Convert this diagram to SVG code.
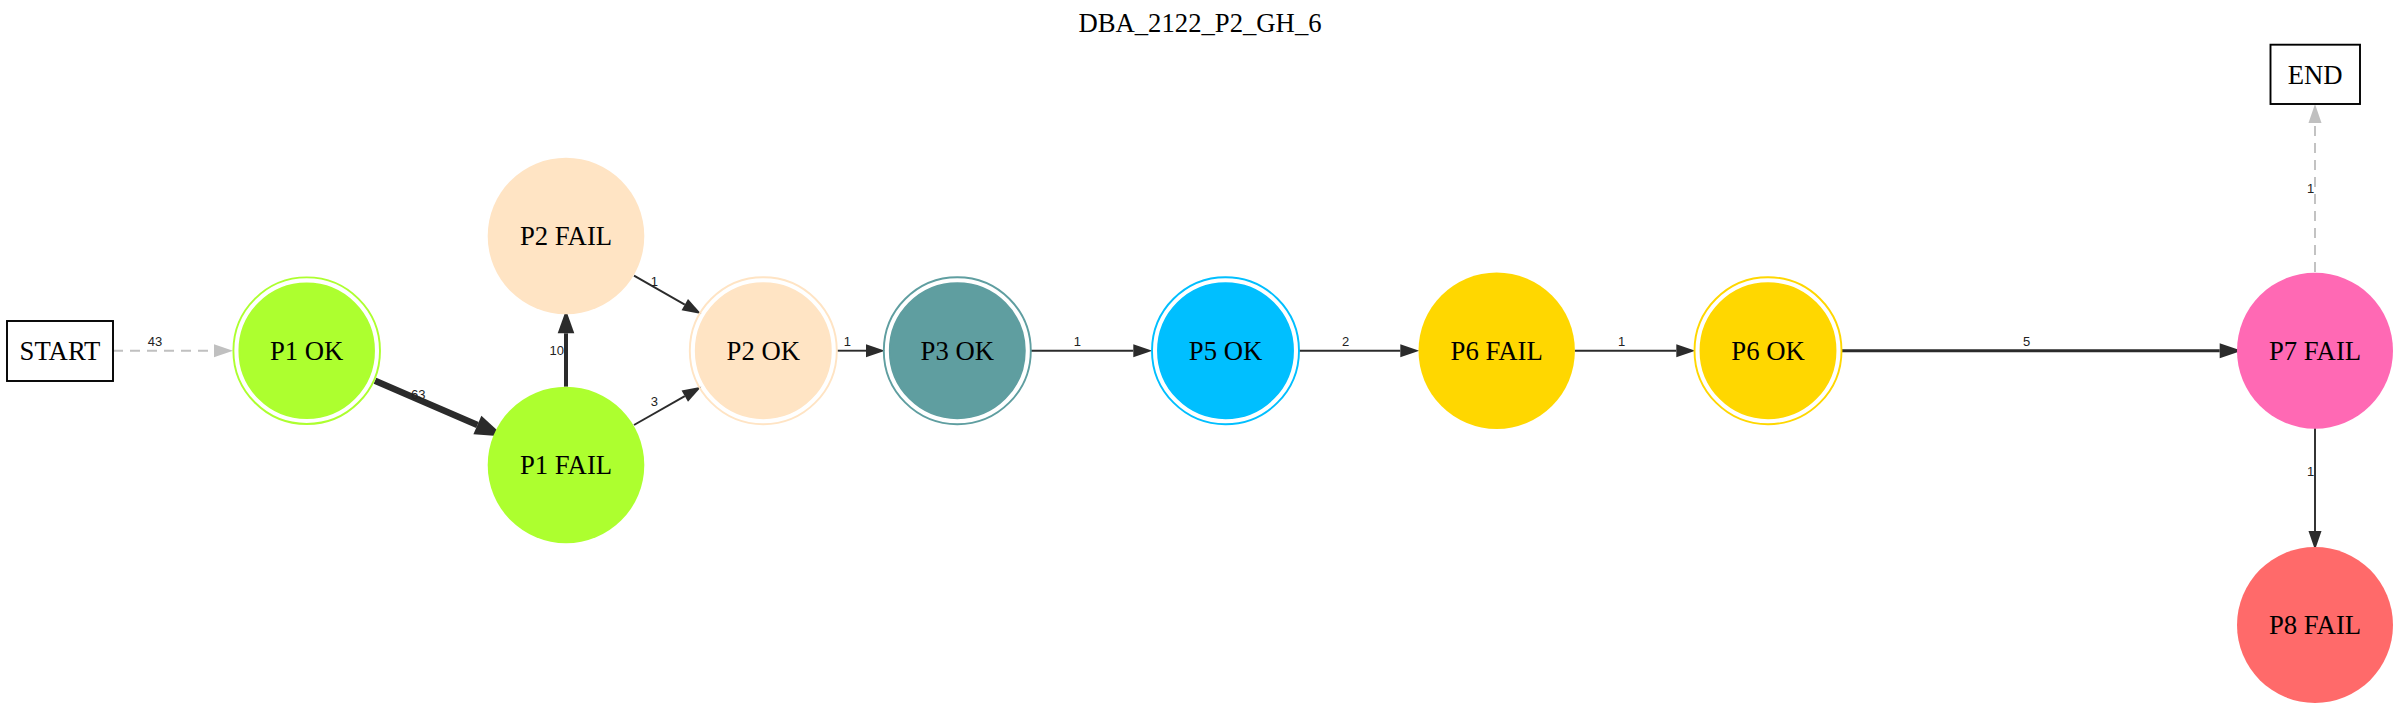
<svg xmlns="http://www.w3.org/2000/svg" width="2400" height="711" viewBox="0 0 2400 711">
<style>
.nt{font-family:"Liberation Serif","Times New Roman",serif;font-size:26.7px;text-anchor:middle;fill:#000}
.el{font-family:"Liberation Sans",Arial,sans-serif;font-size:13px;text-anchor:middle;fill:#222}
.e{fill:none;stroke:#2b2b2b;stroke-width:1.9}
.g{fill:none;stroke:#c0c0c0;stroke-width:1.9;stroke-dasharray:10,7}
.box{fill:#fff;stroke:#000;stroke-width:1.9}
</style>
<defs>
<marker id="a1" markerUnits="userSpaceOnUse" viewBox="0 -8 20 16" markerWidth="20" markerHeight="16" refX="0" refY="0" orient="auto" overflow="visible"><path d="M0,-6.5L19,0L0,6.5z" fill="#2b2b2b"/></marker>
<marker id="ag" markerUnits="userSpaceOnUse" viewBox="0 -8 20 16" markerWidth="20" markerHeight="16" refX="0" refY="0" orient="auto" overflow="visible"><path d="M0,-6.5L19,0L0,6.5z" fill="#c0c0c0"/></marker>
<marker id="a2" markerUnits="userSpaceOnUse" viewBox="0 -9 23 18" markerWidth="23" markerHeight="18" refX="0" refY="0" orient="auto" overflow="visible"><path d="M0,-7.5L22,0L0,7.5z" fill="#2b2b2b"/></marker>
<marker id="a3" markerUnits="userSpaceOnUse" viewBox="0 -9 24 18" markerWidth="24" markerHeight="18" refX="0" refY="0" orient="auto" overflow="visible"><path d="M0,-8.3L23.3,0L0,8.3z" fill="#2b2b2b"/></marker>
<marker id="a4" markerUnits="userSpaceOnUse" viewBox="0 -11 30 22" markerWidth="30" markerHeight="22" refX="0" refY="0" orient="auto" overflow="visible"><path d="M0,-10L29,0L0,10z" fill="#2b2b2b"/></marker>
</defs>
<rect width="2400" height="711" fill="#fff"/>
<text x="1200" y="32" class="nt">DBA_2122_P2_GH_6</text>

<g id="connectors">
<g id="e-start-p1ok"><path class="g" d="M113,350.7L214,350.7" marker-end="url(#ag)"/><text class="el" x="155" y="346">43</text></g>
<g id="e-p1ok-p1fail"><path class="e" style="stroke-width:6.5" d="M375,380.7L477.4,425" marker-end="url(#a4)"/><text class="el" x="418.3" y="399">63</text></g>
<g id="e-p1fail-p2fail"><path class="e" style="stroke-width:4" d="M566,386.7L566,333.3" marker-end="url(#a3)"/><text class="el" x="556.7" y="355">10</text></g>
<g id="e-p2fail-p2ok"><path class="e" d="M634,275.7L684.8,304.6" marker-end="url(#a1)"/><text class="el" x="654.3" y="286">1</text></g>
<g id="e-p1fail-p2ok"><path class="e" d="M634,425L684.8,396.1" marker-end="url(#a1)"/><text class="el" x="654.3" y="406">3</text></g>
<g id="e-p2ok-p3ok"><path class="e" d="M837.3,350.7L866,350.7" marker-end="url(#a1)"/><text class="el" x="847.3" y="346">1</text></g>
<g id="e-p3ok-p5ok"><path class="e" d="M1031,350.7L1133.3,350.7" marker-end="url(#a1)"/><text class="el" x="1077.3" y="346">1</text></g>
<g id="e-p5ok-p6fail"><path class="e" d="M1299,350.7L1400.3,350.7" marker-end="url(#a1)"/><text class="el" x="1345.7" y="346">2</text></g>
<g id="e-p6fail-p6ok"><path class="e" d="M1574.7,350.7L1676.3,350.7" marker-end="url(#a1)"/><text class="el" x="1621.7" y="346">1</text></g>
<g id="e-p6ok-p7fail"><path class="e" style="stroke-width:3" d="M1841.5,350.7L2219.7,350.7" marker-end="url(#a2)"/><text class="el" x="2026.7" y="346">5</text></g>
<g id="e-p7fail-end"><path class="g" d="M2315,272L2315,123" marker-end="url(#ag)"/><text class="el" x="2310.7" y="192.5">1</text></g>
<g id="e-p7fail-p8fail"><path class="e" d="M2315,428L2315,531" marker-end="url(#a1)"/><text class="el" x="2310.7" y="475.5">1</text></g>
</g>

<g id="n-start"><rect class="box" x="7" y="321" width="106" height="60"/><text class="nt" x="60" y="360">START</text></g>
<g id="n-p1ok"><circle cx="306.7" cy="350.7" r="73.3" fill="none" stroke="#adff2f" stroke-width="1.9"/><circle cx="306.7" cy="350.7" r="67.3" fill="#adff2f" stroke="#adff2f" stroke-width="1.9"/><text class="nt" x="306.7" y="359.5">P1 OK</text></g>
<g id="n-p2fail"><circle cx="566" cy="236" r="78.3" fill="#ffe4c4"/><text class="nt" x="566" y="245">P2 FAIL</text></g>
<g id="n-p1fail"><circle cx="566" cy="465" r="78.3" fill="#adff2f"/><text class="nt" x="566" y="474">P1 FAIL</text></g>
<g id="n-p2ok"><circle cx="763.3" cy="350.7" r="73.5" fill="none" stroke="#ffe4c4" stroke-width="1.9"/><circle cx="763.3" cy="350.7" r="67.5" fill="#ffe4c4" stroke="#ffe4c4" stroke-width="1.9"/><text class="nt" x="763.3" y="359.5">P2 OK</text></g>
<g id="n-p3ok"><circle cx="957.3" cy="350.7" r="73.5" fill="none" stroke="#5f9ea0" stroke-width="1.9"/><circle cx="957.3" cy="350.7" r="67.5" fill="#5f9ea0" stroke="#5f9ea0" stroke-width="1.9"/><text class="nt" x="957.3" y="359.5">P3 OK</text></g>
<g id="n-p5ok"><circle cx="1225.5" cy="350.7" r="73.5" fill="none" stroke="#00bfff" stroke-width="1.9"/><circle cx="1225.5" cy="350.7" r="67.5" fill="#00bfff" stroke="#00bfff" stroke-width="1.9"/><text class="nt" x="1225.5" y="359.5">P5 OK</text></g>
<g id="n-p6fail"><circle cx="1496.7" cy="350.7" r="78.2" fill="#ffd700"/><text class="nt" x="1496.7" y="359.5">P6 FAIL</text></g>
<g id="n-p6ok"><circle cx="1768" cy="350.7" r="73.5" fill="none" stroke="#ffd700" stroke-width="1.9"/><circle cx="1768" cy="350.7" r="67.5" fill="#ffd700" stroke="#ffd700" stroke-width="1.9"/><text class="nt" x="1768" y="359.5">P6 OK</text></g>
<g id="n-p7fail"><circle cx="2315" cy="350.7" r="78" fill="#ff69b4"/><text class="nt" x="2315" y="359.5">P7 FAIL</text></g>
<g id="n-p8fail"><circle cx="2315" cy="625" r="78" fill="#ff6a6a"/><text class="nt" x="2315" y="634">P8 FAIL</text></g>
<g id="n-end"><rect class="box" x="2270.5" y="44.7" width="89.5" height="59.3"/><text class="nt" x="2315.2" y="83.5">END</text></g>
</svg>
